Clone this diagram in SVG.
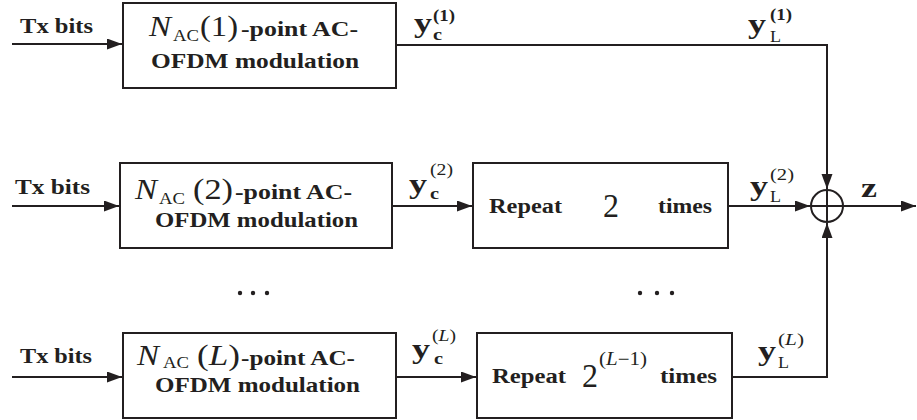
<svg xmlns="http://www.w3.org/2000/svg" width="917" height="420" viewBox="0 0 917 420" font-family="'Liberation Serif', 'Times New Roman', Times, serif">
<style>
text{font-family:'Liberation Serif','Times New Roman',Times,serif;fill:#231f20}
.b{font-weight:bold}
.i{font-style:italic}
.box{fill:#fff;stroke:#231f20;stroke-width:2}
.ln{fill:none;stroke:#231f20;stroke-width:2}
</style>
<defs>
<marker id="ah" markerUnits="userSpaceOnUse" markerWidth="16" markerHeight="12" refX="15" refY="5.5" orient="auto">
<path d="M0,0 L15,5.5 L0,11 z" fill="#231f20"/>
</marker>
</defs>
<rect width="917" height="420" fill="#fff"/>
<g id="connectors">
<path class="ln" d="M12,44 H122" marker-end="url(#ah)"/>
<path class="ln" d="M396,45 H827 V189" marker-end="url(#ah)"/>
<path class="ln" d="M12,206 H119" marker-end="url(#ah)"/>
<path class="ln" d="M392,206 H472" marker-end="url(#ah)"/>
<path class="ln" d="M728,206 H810" marker-end="url(#ah)"/>
<path class="ln" d="M843,206 H916" marker-end="url(#ah)"/>
<path class="ln" d="M12,377 H122" marker-end="url(#ah)"/>
<path class="ln" d="M396,377 H476" marker-end="url(#ah)"/>
<path class="ln" d="M732,377 H827 V223" marker-end="url(#ah)"/>
</g>
<g id="labels">
<text class="b" x="20" y="33" font-size="20" textLength="73" lengthAdjust="spacingAndGlyphs">Tx bits</text>
<text class="b" x="15" y="194" font-size="20" textLength="75" lengthAdjust="spacingAndGlyphs">Tx bits</text>
<text class="b" x="20" y="363" font-size="20" textLength="72" lengthAdjust="spacingAndGlyphs">Tx bits</text>
<text class="b" x="414" y="32" font-size="27" textLength="18" lengthAdjust="spacingAndGlyphs">y</text>
<text class="b" x="433" y="40" font-size="16" textLength="9" lengthAdjust="spacingAndGlyphs">c</text>
<text class="b" x="433" y="21" font-size="16" textLength="22" lengthAdjust="spacingAndGlyphs">(1)</text>
<text class="b" x="409" y="193" font-size="27" textLength="18" lengthAdjust="spacingAndGlyphs">y</text>
<text class="b" x="430" y="199" font-size="16" textLength="9" lengthAdjust="spacingAndGlyphs">c</text>
<text x="430" y="175" font-size="16" textLength="23" lengthAdjust="spacingAndGlyphs">(2)</text>
<text class="b" x="412" y="358" font-size="27" textLength="18" lengthAdjust="spacingAndGlyphs">y</text>
<text class="b" x="434" y="364" font-size="16" textLength="9" lengthAdjust="spacingAndGlyphs">c</text>
<text x="432" y="341" font-size="16" textLength="24" lengthAdjust="spacingAndGlyphs">(<tspan class="i">L</tspan>)</text>
<text class="b" x="748" y="33" font-size="27" textLength="18" lengthAdjust="spacingAndGlyphs">y</text>
<text x="770" y="42" font-size="16" textLength="11" lengthAdjust="spacingAndGlyphs">L</text>
<text class="b" x="770" y="20" font-size="16" textLength="22" lengthAdjust="spacingAndGlyphs">(1)</text>
<text class="b" x="750" y="195" font-size="27" textLength="18" lengthAdjust="spacingAndGlyphs">y</text>
<text x="770" y="202" font-size="16" textLength="11" lengthAdjust="spacingAndGlyphs">L</text>
<text x="770" y="180" font-size="16" textLength="24" lengthAdjust="spacingAndGlyphs">(2)</text>
<text class="b" x="758" y="360" font-size="27" textLength="18" lengthAdjust="spacingAndGlyphs">y</text>
<text x="778" y="368" font-size="16" textLength="11" lengthAdjust="spacingAndGlyphs">L</text>
<text x="778" y="345" font-size="16" textLength="26" lengthAdjust="spacingAndGlyphs">(<tspan class="i">L</tspan>)</text>
<text class="b" x="861" y="197" font-size="27" textLength="16" lengthAdjust="spacingAndGlyphs">z</text>
<g fill="#231f20">
<circle cx="240" cy="293" r="2.2"/><circle cx="253" cy="293" r="2.2"/><circle cx="267" cy="293" r="2.2"/>
<circle cx="640" cy="293" r="2.2"/><circle cx="657" cy="293" r="2.2"/><circle cx="672" cy="293" r="2.2"/>
</g>
</g>
<g id="mod1">
<rect class="box" x="123" y="3" width="273" height="85"/>
<text class="i" x="149" y="36" font-size="29" textLength="22" lengthAdjust="spacingAndGlyphs">N</text>
<text x="173" y="41" font-size="17" textLength="26" lengthAdjust="spacingAndGlyphs">AC</text>
<text x="200" y="36" font-size="30" textLength="38" lengthAdjust="spacingAndGlyphs">(1)</text>
<text class="b" x="241" y="36" font-size="21" textLength="117" lengthAdjust="spacingAndGlyphs">-point AC-</text>
<text class="b" x="151" y="68" font-size="21" textLength="208" lengthAdjust="spacingAndGlyphs">OFDM modulation</text>
</g>
<g id="mod2">
<rect class="box" x="120" y="163" width="272" height="85"/>
<text class="i" x="135" y="199" font-size="29" textLength="22" lengthAdjust="spacingAndGlyphs">N</text>
<text x="159" y="204" font-size="17" textLength="26" lengthAdjust="spacingAndGlyphs">AC</text>
<text x="193" y="199" font-size="30" textLength="40" lengthAdjust="spacingAndGlyphs">(2)</text>
<text class="b" x="235" y="199" font-size="21" textLength="117" lengthAdjust="spacingAndGlyphs">-point AC-</text>
<text class="b" x="155" y="227" font-size="21" textLength="203" lengthAdjust="spacingAndGlyphs">OFDM modulation</text>
</g>
<g id="modL">
<rect class="box" x="123" y="333" width="273" height="85"/>
<text class="i" x="137" y="365" font-size="29" textLength="22" lengthAdjust="spacingAndGlyphs">N</text>
<text x="163" y="368" font-size="17" textLength="26" lengthAdjust="spacingAndGlyphs">AC</text>
<text x="197" y="365" font-size="30" textLength="43" lengthAdjust="spacingAndGlyphs">(<tspan class="i">L</tspan>)</text>
<text class="b" x="241" y="365" font-size="21" textLength="114" lengthAdjust="spacingAndGlyphs">-point AC-</text>
<text class="b" x="155" y="392" font-size="21" textLength="205" lengthAdjust="spacingAndGlyphs">OFDM modulation</text>
</g>
<g id="rep2">
<rect class="box" x="473" y="163" width="255" height="85"/>
<text class="b" x="489" y="213" font-size="20" textLength="73" lengthAdjust="spacingAndGlyphs">Repeat</text>
<text x="603" y="217" font-size="34" textLength="16" lengthAdjust="spacingAndGlyphs">2</text>
<text class="b" x="658" y="213" font-size="20" textLength="54" lengthAdjust="spacingAndGlyphs">times</text>
</g>
<g id="repL">
<rect class="box" x="477" y="333" width="255" height="85"/>
<text class="b" x="492" y="383" font-size="20" textLength="74" lengthAdjust="spacingAndGlyphs">Repeat</text>
<text x="582" y="387" font-size="34" textLength="16" lengthAdjust="spacingAndGlyphs">2</text>
<text x="599" y="365" font-size="18" textLength="48" lengthAdjust="spacingAndGlyphs">(<tspan class="i">L</tspan>−1)</text>
<text class="b" x="660" y="383" font-size="20" textLength="57" lengthAdjust="spacingAndGlyphs">times</text>
</g>
<g id="sum">
<circle class="ln" cx="827" cy="206" r="16"/>
<path class="ln" d="M811,206 H843 M827,190 V222"/>
</g>
</svg>
